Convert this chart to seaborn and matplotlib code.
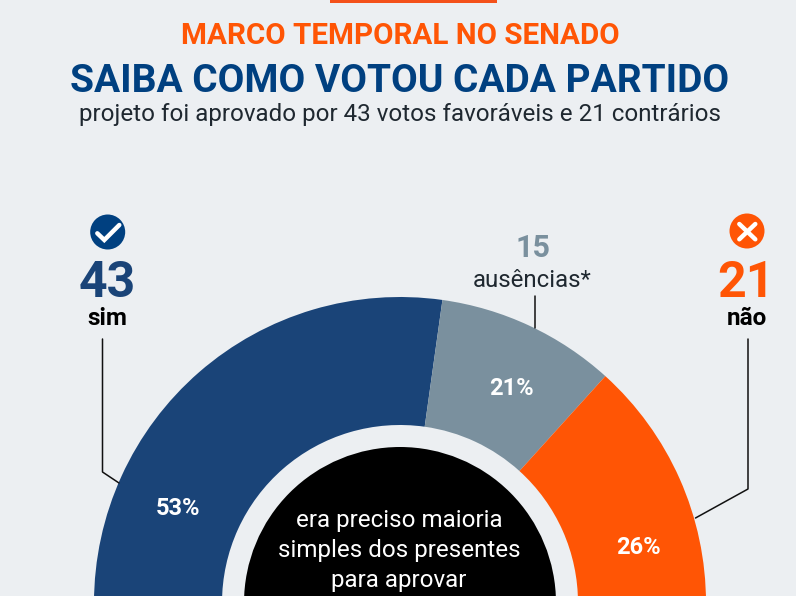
import matplotlib.pyplot as plt
from matplotlib.patches import Circle, Rectangle
import seaborn as sns

WIDTH, HEIGHT = 796, 596
BACKGROUND = "#ECEFF2"
BLUE = "#1A4478"
TITLE_BLUE = "#004080"
GREY = "#7A909E"
ORANGE = "#FF5505"
BAR_RED = "#F4511A"
DARK = "#1F2830"

categories = ["sim", "ausências*", "não"]
votes = [43, 15, 21]
shares = ["53%", "21%", "26%"]
center_lines = ["era preciso maioria", "simples dos presentes", "para aprovar"]

sns.set_theme(style="white")
plt.rcParams["font.family"] = ["Roboto", "DejaVu Sans"]


def py(y):
    # the layout was measured from the top of the image
    return HEIGHT - y


fig, ax = plt.subplots(figsize=(WIDTH / 100, HEIGHT / 100), dpi=100)
fig.subplots_adjust(0, 0, 1, 1)
fig.patch.set_facecolor(BACKGROUND)
ax.set_facecolor(BACKGROUND)

# Half donut: each count is a fraction of the full circle
total = sum(votes)
center = (400, py(603))
ax.pie(
    [v / (2 * total) for v in votes],
    colors=[BLUE, GREY, ORANGE],
    startangle=180,
    counterclock=False,
    normalize=False,
    radius=306,
    center=center,
    wedgeprops={"width": 128, "linewidth": 0},
)
ax.add_patch(Circle(center, 156, color="black", lw=0, zorder=3))
ax.set_xlim(0, WIDTH)
ax.set_ylim(0, HEIGHT)
ax.set_aspect("equal")
ax.axis("off")

ax.add_patch(Rectangle((330, py(3)), 167, 3, color=BAR_RED, lw=0))


def label(x, y, s, size, color, weight="normal"):
    ax.text(x, py(y), s, fontsize=size, color=color, fontweight=weight,
            ha="center", va="baseline", zorder=5)


# Header
label(400, 43.5, "MARCO TEMPORAL NO SENADO", 21.3, ORANGE, "bold")
label(400, 92, "SAIBA COMO VOTOU CADA PARTIDO", 28, TITLE_BLUE, "bold")
label(400, 121.5, "projeto foi aprovado por 43 votos favoráveis e 21 contrários", 17.4, DARK)

# Vote counts
label(107.5, 297, str(votes[0]), 36, BLUE, "bold")
label(107.5, 325, categories[0], 17.5, "black", "bold")
label(533, 257, str(votes[1]), 22, GREY, "bold")
label(532, 287, categories[1], 17.3, DARK)
label(746, 297, str(votes[2]), 36, ORANGE, "bold")
label(747, 325, categories[2], 17.5, "black", "bold")

# Shares inside the ring
label(178, 515, shares[0], 17, "white", "bold")
label(511, 395, shares[1], 17, "white", "bold")
label(638, 554, shares[2], 17, "white", "bold")

for y, line in zip([527, 557, 587], center_lines):
    label(399, y, line, 17.4, "white")

# Leader lines
for xs, ys in [
    ([102.5, 102.5, 119], [339, 472, 483]),
    ([535, 535], [296, 328]),
    ([748, 748, 695.5], [339, 489, 518]),
]:
    ax.plot(xs, [py(y) for y in ys], color="#111111", lw=1.1, zorder=2)

# Icons
ax.add_patch(Circle((107.7, py(232)), 17.5, color=TITLE_BLUE, lw=0))
ax.plot([97.3, 104.3, 119.3], [py(233.3), py(240), py(225)], color="white", lw=3.2,
        solid_joinstyle="miter", zorder=4)
ax.add_patch(Circle((747, py(231)), 17.5, color=ORANGE, lw=0))
ax.plot([739.3, 755.3], [py(224), py(239.3)], color="white", lw=3.2, zorder=4)
ax.plot([755.3, 739.3], [py(224), py(239.3)], color="white", lw=3.2, zorder=4)

fig.savefig("out.png", dpi=100, facecolor=BACKGROUND)
